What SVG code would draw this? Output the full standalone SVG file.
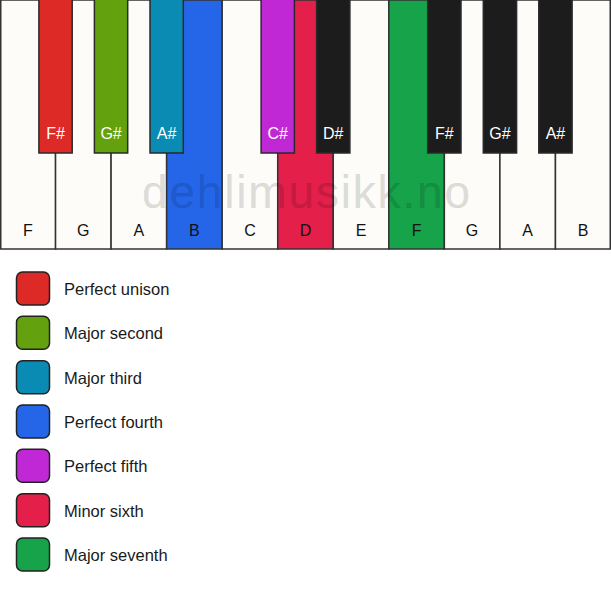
<svg xmlns="http://www.w3.org/2000/svg" width="611" height="594" viewBox="0 0 611 594">
<style>
.w{fill:#fdfcf8;stroke:#333;stroke-width:1.5}
.b{stroke:#2a2a2a;stroke-width:1.5}
.bk{fill:#1c1c1c}
.lw{font-family:"Liberation Sans",Arial,sans-serif;font-size:16px;fill:#111;text-anchor:middle}
.lb{font-family:"Liberation Sans",Arial,sans-serif;font-size:16px;fill:#fff;text-anchor:middle}
.lg{font-family:"Liberation Sans",Arial,sans-serif;font-size:16.5px;fill:#1a1a1a}
.box{stroke:#222;stroke-width:1.5}
.wm{font-family:"Liberation Sans",Arial,sans-serif;font-size:46px;fill:#000;fill-opacity:0.13;stroke:#000;stroke-opacity:0.05;stroke-width:1;text-anchor:middle}
</style>
<rect width="611" height="594" fill="#fff"/>
<g id="white-keys">
<g id="key-F1"><rect class="w" x="0.75" y="0" width="54.8" height="249"/><text class="lw" x="27.8" y="236">F</text></g>
<g id="key-G1"><rect class="w" x="55.55" y="0" width="55.54" height="249"/><text class="lw" x="83.3" y="236">G</text></g>
<g id="key-A1"><rect class="w" x="111.09" y="0" width="55.55" height="249"/><text class="lw" x="138.9" y="236">A</text></g>
<g id="key-B1"><rect class="w" x="166.64" y="0" width="55.54" height="249" style="fill:#2566e8"/><text class="lw" x="194.4" y="236">B</text></g>
<g id="key-C"><rect class="w" x="222.18" y="0" width="55.55" height="249"/><text class="lw" x="250" y="236">C</text></g>
<g id="key-D"><rect class="w" x="277.73" y="0" width="55.54" height="249" style="fill:#e31f4a"/><text class="lw" x="305.5" y="236">D</text></g>
<g id="key-E"><rect class="w" x="333.27" y="0" width="55.55" height="249"/><text class="lw" x="361" y="236">E</text></g>
<g id="key-F2"><rect class="w" x="388.82" y="0" width="55.54" height="249" style="fill:#17a34a"/><text class="lw" x="416.6" y="236">F</text></g>
<g id="key-G2"><rect class="w" x="444.36" y="0" width="55.55" height="249"/><text class="lw" x="472.1" y="236">G</text></g>
<g id="key-A2"><rect class="w" x="499.91" y="0" width="55.54" height="249"/><text class="lw" x="527.7" y="236">A</text></g>
<g id="key-B2"><rect class="w" x="555.45" y="0" width="54.8" height="249"/><text class="lw" x="583.2" y="236">B</text></g>
</g>
<text id="watermark" class="wm" x="306" y="208" textLength="328" lengthAdjust="spacing">dehlimusikk.no</text>
<g id="black-keys">
<g id="key-Fs1"><rect class="b" x="38.9" y="-1" width="33.3" height="154" fill="#dd2a27"/><text class="lb" x="55.55" y="139">F#</text></g>
<g id="key-Gs1"><rect class="b" x="94.4" y="-1" width="33.3" height="154" fill="#63a10e"/><text class="lb" x="111.09" y="139">G#</text></g>
<g id="key-As1"><rect class="b" x="150" y="-1" width="33.3" height="154" fill="#0a8bb3"/><text class="lb" x="166.64" y="139">A#</text></g>
<g id="key-Cs"><rect class="b" x="261.1" y="-1" width="33.3" height="154" fill="#c128d5"/><text class="lb" x="277.73" y="139">C#</text></g>
<g id="key-Ds"><rect class="b bk" x="316.6" y="-1" width="33.3" height="154"/><text class="lb" x="333.27" y="139">D#</text></g>
<g id="key-Fs2"><rect class="b bk" x="427.7" y="-1" width="33.3" height="154"/><text class="lb" x="444.36" y="139">F#</text></g>
<g id="key-Gs2"><rect class="b bk" x="483.3" y="-1" width="33.3" height="154"/><text class="lb" x="499.91" y="139">G#</text></g>
<g id="key-As2"><rect class="b bk" x="538.8" y="-1" width="33.3" height="154"/><text class="lb" x="555.45" y="139">A#</text></g>
</g>
<g id="legend">
<g id="leg-unison"><rect class="box" x="16.5" y="272" width="33" height="33" rx="6" fill="#dd2a27"/><text class="lg" x="64" y="295">Perfect unison</text></g>
<g id="leg-second"><rect class="box" x="16.5" y="316.3" width="33" height="33" rx="6" fill="#63a10e"/><text class="lg" x="64" y="339.3">Major second</text></g>
<g id="leg-third"><rect class="box" x="16.5" y="360.7" width="33" height="33" rx="6" fill="#0a8bb3"/><text class="lg" x="64" y="383.7">Major third</text></g>
<g id="leg-fourth"><rect class="box" x="16.5" y="405" width="33" height="33" rx="6" fill="#2566e8"/><text class="lg" x="64" y="428">Perfect fourth</text></g>
<g id="leg-fifth"><rect class="box" x="16.5" y="449.3" width="33" height="33" rx="6" fill="#c128d5"/><text class="lg" x="64" y="472.3">Perfect fifth</text></g>
<g id="leg-sixth"><rect class="box" x="16.5" y="493.7" width="33" height="33" rx="6" fill="#e31f4a"/><text class="lg" x="64" y="516.7">Minor sixth</text></g>
<g id="leg-seventh"><rect class="box" x="16.5" y="538" width="33" height="33" rx="6" fill="#17a34a"/><text class="lg" x="64" y="561">Major seventh</text></g>
</g>
</svg>
